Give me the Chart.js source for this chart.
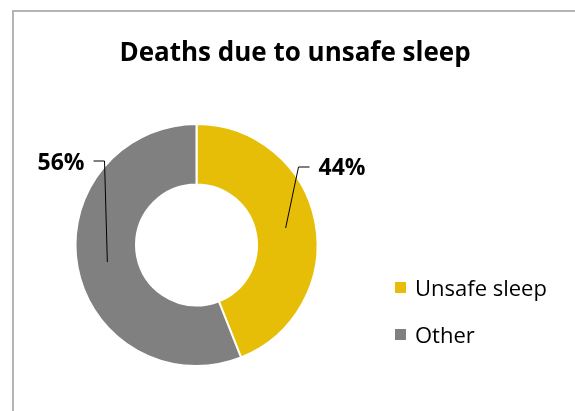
<!DOCTYPE html>
<html>
<head>
<meta charset="utf-8">
<script src="https://cdn.jsdelivr.net/npm/chart.js@4"></script>
<style>
  html, body { margin: 0; padding: 0; background: #fff; }
  #wrap { width: 575px; height: 411px; }
</style>
</head>
<body>
<div id="wrap"><canvas id="c" width="575" height="411"></canvas></div>
<script>
// data
const categories = ['Unsafe sleep', 'Other'];
const shares = [44, 56];
const colors = ['#E6BE08', '#808080'];
const chartTitle = 'Deaths due to unsafe sleep';

// where the % labels sit, relative to the doughnut centre (elbow of the leader, text anchor)
const labelSpots = [
  { elbow: [102, -78], end: [113, -78], text: [122, -70], align: 'left' },
  { elbow: [-92, -84], end: [-103, -84], text: [-112, -75], align: 'right' }
];

const FONT = '"Open Sans", Lato, sans-serif';

// frame, title, leader lines, % labels, legend
const decor = {
  id: 'decor',
  beforeDraw(chart) {
    const ctx = chart.ctx;
    ctx.save();
    ctx.fillStyle = '#fff';
    ctx.fillRect(0, 0, chart.width, chart.height);
    ctx.strokeStyle = '#B4B4B4';
    ctx.lineWidth = 2;
    ctx.strokeRect(13, 11, 700, 600);
    ctx.restore();
  },
  afterDraw(chart) {
    const ctx = chart.ctx;
    const meta = chart.getDatasetMeta(0);
    const total = shares.reduce((a, b) => a + b, 0);
    ctx.save();

    // title
    ctx.fillStyle = '#000';
    ctx.font = 'bold 26px ' + FONT;
    ctx.textAlign = 'center';
    ctx.textBaseline = 'alphabetic';
    ctx.fillText(chartTitle, 295, 61);

    // leader lines + percentages
    meta.data.forEach((arc, i) => {
      const p = arc.getProps(['x', 'y', 'startAngle', 'endAngle', 'innerRadius', 'outerRadius'], true);
      const mid = (p.startAngle + p.endAngle) / 2;
      const r = (p.innerRadius + p.outerRadius) / 2;
      const sx = p.x + Math.cos(mid) * r;
      const sy = p.y + Math.sin(mid) * r;
      const s = labelSpots[i];
      ctx.strokeStyle = '#000';
      ctx.lineWidth = 1;
      ctx.beginPath();
      ctx.moveTo(sx, sy);
      ctx.lineTo(p.x + s.elbow[0], p.y + s.elbow[1]);
      ctx.lineTo(p.x + s.end[0], p.y + s.end[1]);
      ctx.stroke();
      ctx.font = 'bold 23px ' + FONT;
      ctx.textAlign = s.align;
      ctx.fillText(Math.round(shares[i] / total * 100) + '%', p.x + s.text[0], p.y + s.text[1]);
    });

    // legend
    ctx.font = '22px ' + FONT;
    ctx.textAlign = 'left';
    categories.forEach((name, i) => {
      const y = 293 + i * 47;
      ctx.fillStyle = colors[i];
      ctx.fillRect(395, y - 11, 11, 11);
      ctx.fillStyle = '#000';
      ctx.fillText(name, 415, y + 3);
    });
    ctx.restore();
  }
};

new Chart(document.getElementById('c'), {
  type: 'doughnut',
  data: {
    labels: categories,
    datasets: [{
      data: shares,
      backgroundColor: colors,
      borderColor: '#fff',
      borderWidth: 2,
      hoverOffset: 0
    }]
  },
  options: {
    responsive: false,
    animation: false,
    cutout: '50%',
    layout: { padding: { left: 74, right: 256, top: 123, bottom: 44 } },
    plugins: {
      legend: { display: false },
      title: { display: false },
      tooltip: { enabled: false }
    }
  },
  plugins: [decor]
});
</script>
</body>
</html>
